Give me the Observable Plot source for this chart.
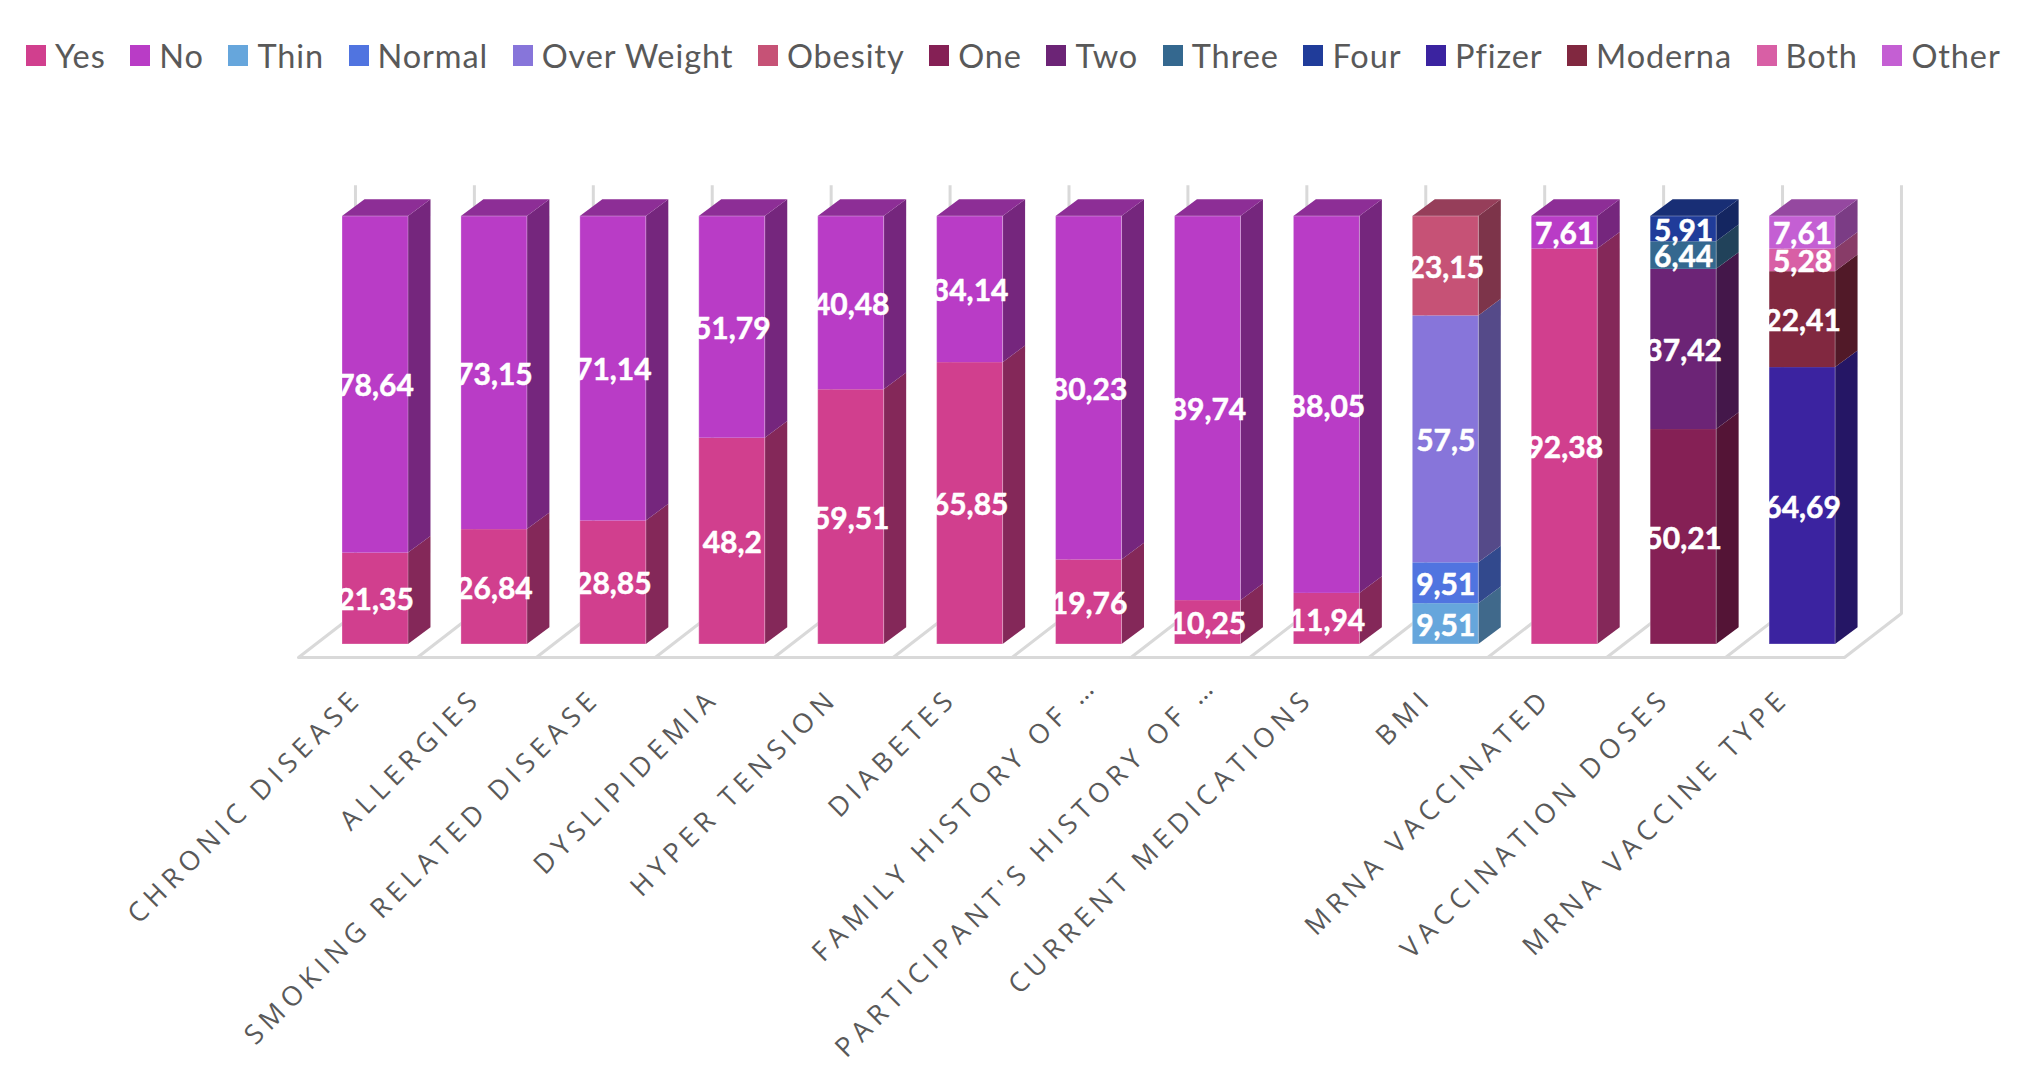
<!DOCTYPE html>
<html>
<head>
<meta charset="utf-8">
<script src="https://cdn.jsdelivr.net/npm/d3@7"></script>
<script src="https://cdn.jsdelivr.net/npm/@observablehq/plot@0.6"></script>
<style>
html,body{margin:0;padding:0;background:#fff;width:2018px;height:1090px;overflow:hidden}
#legend{display:flex;align-items:center;height:90px;box-sizing:border-box;padding:21px 0 0 26px;font:32.5px Lato,sans-serif;color:#595959;letter-spacing:.9px;white-space:nowrap}
#legend .item{display:flex;align-items:center;margin-right:24.6px}
#legend i{display:block;width:20px;height:21px;margin-right:9px}
g[aria-label="x-axis tick label"] text{letter-spacing:5.9px}
</style>
</head>
<body>
<div id="legend"></div>
<div id="chart"></div>
<script>
const categories = ["CHRONIC DISEASE","ALLERGIES","SMOKING RELATED DISEASE","DYSLIPIDEMIA","HYPER TENSION","DIABETES","FAMILY HISTORY OF …","PARTICIPANT'S HISTORY OF …","CURRENT MEDICATIONS","BMI","MRNA VACCINATED","VACCINATION DOSES","MRNA VACCINE TYPE"];
const seriesNames = ["Yes","No","Thin","Normal","Over Weight","Obesity","One","Two","Three","Four","Pfizer","Moderna","Both","Other"];
const seriesColors = ["#d13f8e","#b93cc6","#66a6dc","#5074e0","#8775da","#c65276","#852055","#6c2476","#34688f","#203c9a","#3b23a0","#812840","#d85fa5","#c45fd3"];
const yes = [21.35,26.84,28.85,48.2,59.51,65.85,19.76,10.25,11.94,null,92.38,null,null];
const no = [78.64,73.15,71.14,51.79,40.48,34.14,80.23,89.74,88.05,null,7.61,null,null];
const thin = [null,null,null,null,null,null,null,null,null,9.51,null,null,null];
const normal = [null,null,null,null,null,null,null,null,null,9.51,null,null,null];
const overWeight = [null,null,null,null,null,null,null,null,null,57.5,null,null,null];
const obesity = [null,null,null,null,null,null,null,null,null,23.15,null,null,null];
const one = [null,null,null,null,null,null,null,null,null,null,null,50.21,null];
const two = [null,null,null,null,null,null,null,null,null,null,null,37.42,null];
const three = [null,null,null,null,null,null,null,null,null,null,null,6.44,null];
const four = [null,null,null,null,null,null,null,null,null,null,null,5.91,null];
const pfizer = [null,null,null,null,null,null,null,null,null,null,null,null,64.69];
const moderna = [null,null,null,null,null,null,null,null,null,null,null,null,22.41];
const both = [null,null,null,null,null,null,null,null,null,null,null,null,5.28];
const other = [null,null,null,null,null,null,null,null,null,null,null,null,7.61];
const seriesValues = [yes,no,thin,normal,overWeight,obesity,one,two,three,four,pfizer,moderna,both,other];

// legend
const legend = d3.select("#legend");
seriesNames.forEach((n,i)=>{
  const it = legend.append("div").attr("class","item");
  it.append("i").style("background",seriesColors[i]);
  it.append("span").text(n);
});

// pseudo-3D geometry, in data units
const barLeft = 0.37, barRight = 0.925, depthX = 0.189, depthY = 3.9;
const floorFront = -3.04, floorBack = 7.24, wallTop = 107.2, floorShift = 0.479;

const shade = (c,k)=>{const r=d3.rgb(c);return d3.rgb(r.r*k,r.g*k,r.b*k).formatHex();};
const fronts=[], sides=[], tops=[], outlines=[];
categories.forEach((cat,i)=>{
  const present = seriesValues.map((v,s)=>({s,v:v[i]})).filter(d=>d.v!=null);
  const total = d3.sum(present,d=>d.v);
  let acc = 0;
  outlines.push({x1:i+barLeft,x2:i+barRight});
  present.forEach(({s,v},k)=>{
    const lo = acc/total*100; acc += v; const hi = acc/total*100;
    const id = i+"-"+s, col = seriesColors[s];
    fronts.push({x1:i+barLeft,x2:i+barRight,lo,hi,mid:(lo+hi)/2,cx:i+(barLeft+barRight)/2,col,label:String(v).replace(".",",")});
    const sc = shade(col,0.63);
    sides.push({x:i+barRight,lo,hi,id,col:sc},{x:i+barRight+depthX,lo:lo+depthY,hi:hi+depthY,id,col:sc});
    if(k===present.length-1){
      const tc = shade(col,0.76);
      tops.push({y:100,a:i+barLeft,b:i+barRight,id,col:tc},{y:100+depthY,a:i+barLeft+depthX,b:i+barRight+depthX,id,col:tc});
    }
  });
});
const slots = d3.range(categories.length+1);
const floorLines = slots.flatMap(i=>[{x:i,y:floorFront,z:i},{x:i+floorShift,y:floorBack,z:i}]);
const grey = "#d9d9d9";
const axisStyle = {tickFormat:d=>categories[Math.floor(d)],tickRotate:-45,tickSize:0,tickPadding:1,label:null,fontSize:27,fontFamily:"'Open Sans', sans-serif",color:"#595959"};
const truncated = [6,7];

const chart = Plot.plot({
  width:2018, height:1000, marginBottom:398, marginTop:0, marginLeft:0, marginRight:0,
  x:{domain:[0,13],range:[298,1844]},
  y:{domain:[0,100],range:[554,126],axis:null},
  color:{type:"identity"},
  marks:[
    Plot.ruleX(slots,{x:d=>d+floorShift,y1:floorBack,y2:wallTop,stroke:grey,strokeWidth:3}),
    Plot.ruleY([floorFront],{x1:0,x2:13,stroke:grey,strokeWidth:3}),
    Plot.line(floorLines,{x:"x",y:"y",z:"z",stroke:grey,strokeWidth:3}),
    Plot.area(sides,{x1:"x",y1:"lo",y2:"hi",z:"id",fill:"col"}),
    Plot.area(tops,{y1:"y",x1:"a",x2:"b",z:"id",fill:"col"}),
    Plot.rect(fronts,{x1:"x1",x2:"x2",y1:"lo",y2:"hi",fill:"col"}),
    Plot.rect(outlines,{x1:"x1",x2:"x2",y1:0,y2:100,fill:"none",stroke:"white",strokeOpacity:0.3,strokeWidth:1}),
    Plot.text(fronts,{x:"cx",y:"mid",text:"label",dy:2,fill:"white",stroke:"white",strokeWidth:0.5,fontWeight:"bold",fontSize:30,fontFamily:"Lato, sans-serif"}),
    Plot.axisX({...axisStyle,ticks:categories.map((c,i)=>i+0.5).filter((d,i)=>!truncated.includes(i))}),
    Plot.axisX({...axisStyle,ticks:truncated.map(i=>i+0.5),dx:22,dy:-13})
  ]
});
document.getElementById("chart").appendChild(chart);
</script>
</body>
</html>
